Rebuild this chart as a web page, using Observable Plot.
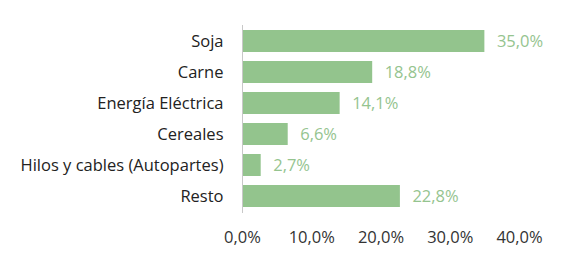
<!DOCTYPE html>
<html>
<head>
<meta charset="utf-8">
<script src="https://cdn.jsdelivr.net/npm/d3@7"></script>
<script src="https://cdn.jsdelivr.net/npm/@observablehq/plot@0.6"></script>
<style>
  html, body { margin: 0; padding: 0; background: #fff; }
  #chart svg { display: block; }
</style>
</head>
<body>
<div id="chart"></div>
<script>
const categories = ["Soja", "Carne", "Energía Eléctrica", "Cereales", "Hilos y cables (Autopartes)", "Resto"];
const values = [35.0, 18.8, 14.1, 6.6, 2.7, 22.8];
const xTicks = [0, 10, 20, 30, 40];

const data = categories.map((c, i) => ({ category: c, value: values[i] }));
const fmt = v => v.toFixed(1).replace(".", ",") + "%";

const chart = Plot.plot({
  width: 570,
  height: 266,
  marginLeft: 242,
  marginRight: 51,
  marginTop: 20,
  marginBottom: 49,
  style: { fontFamily: "'Open Sans', sans-serif", fontSize: "16px", background: "#fff" },
  x: { domain: [0, 40], ticks: xTicks, tickFormat: fmt, label: null },
  y: { domain: categories, padding: 0.28, label: null },
  marks: [
    Plot.barX(data, { y: "category", x: "value", fill: "#93c48d" }),
    Plot.ruleX([0], { stroke: "#c8c8c8", strokeWidth: 1, insetTop: 5, insetBottom: 4 }),
    Plot.text(data, { y: "category", x: "value", text: d => fmt(d.value), textAnchor: "start", dx: 12, fill: "#95c48f", fontSize: 16.5 }),
    Plot.axisY({ tickSize: 0, tickPadding: 19, fill: "#222", fontSize: 16.5 }),
    Plot.axisX({ ticks: xTicks, tickFormat: fmt, tickSize: 0, tickPadding: 14, fill: "#333", fontSize: 16.5 })
  ]
});
document.getElementById("chart").appendChild(chart);
</script>
</body>
</html>
